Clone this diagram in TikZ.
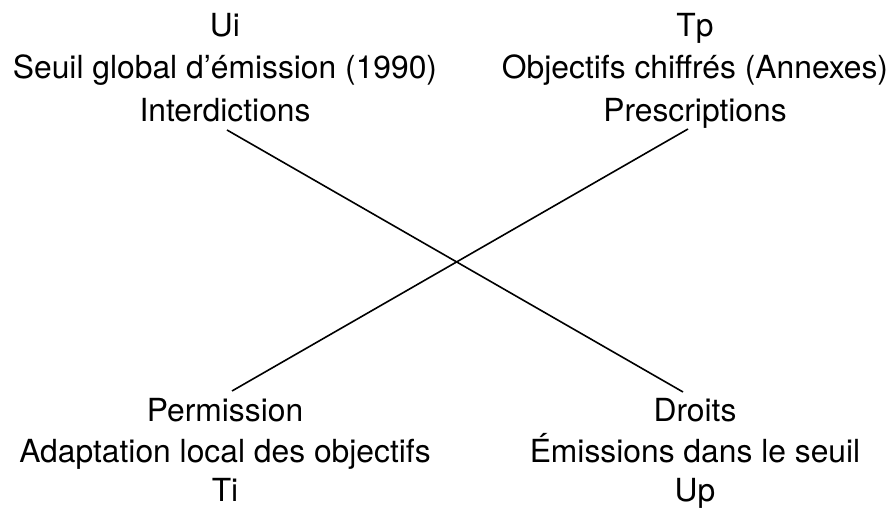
\documentclass[tikz,border=0pt]{standalone}
\usepackage{fontspec}
\setmainfont{TeX Gyre Heros}
\usetikzlibrary{calc}
\begin{document}
\begin{tikzpicture}[x=1pt,y=1pt,
  lbl/.style={anchor=base,inner sep=0pt,font=\fontsize{31.8}{38}\selectfont},
  conn/.style={line width=1.6pt,black}]
\useasboundingbox (0,0) rectangle (891,508);
% top left
\node[lbl] (ui) at (225,508-37) {Ui};
\node[lbl] (seuil) at (225,508-79) {Seuil global d’émission (1990)};
\node[lbl] (interd) at (225,508-122) {Interdictions};
% top right
\node[lbl] (tp) at (695,508-37) {Tp};
\node[lbl] (obj) at (695,508-79) {Objectifs chiffrés (Annexes)};
\node[lbl] (presc) at (695,508-122) {Prescriptions};
% bottom left
\node[lbl] (perm) at (225,508-422) {Permission};
\node[lbl] (adapt) at (225,508-463) {Adaptation local des objectifs};
\node[lbl] (ti) at (225,508-502) {Ti};
% bottom right
\node[lbl] (droits) at (695,508-422) {Droits};
\node[lbl] (emis) at (695,508-463) {Émissions dans le seuil};
\node[lbl] (up) at (695,508-502) {Up};
% line ends
\coordinate (a1) at ($(interd.base)+(2,-8)$);
\coordinate (a2) at ($(droits.base)+(-12,30)$);
\coordinate (b1) at ($(presc.base)+(-7,-7)$);
\coordinate (b2) at ($(perm.base)+(7,31)$);
\draw[conn] (a1) -- (a2);
\draw[conn] (b1) -- (b2);
\end{tikzpicture}
\end{document}
